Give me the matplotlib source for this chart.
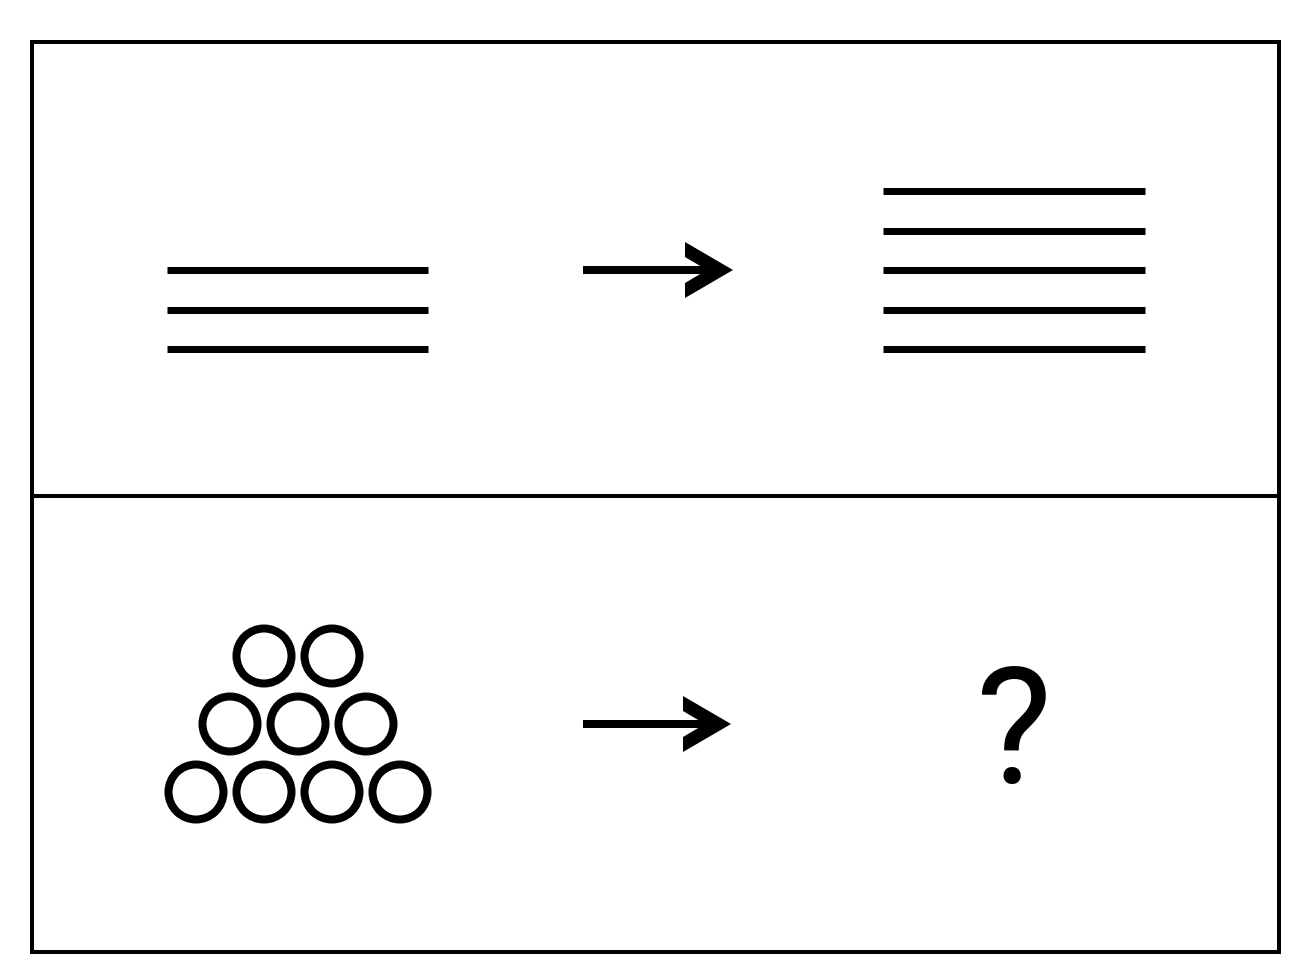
import matplotlib
matplotlib.use("Agg")
import matplotlib.pyplot as plt
from matplotlib import font_manager
from matplotlib.patches import Circle, Polygon

# --- dados do quebra-cabeça ---
top_left_lines = 3          # linhas antes da seta
top_right_lines = 5         # linhas depois da seta
circle_rows = [2, 3, 4]     # círculos por linha (de cima para baixo)
answer_text = "?"

# --- figura em coordenadas de pixel ---
fig = plt.figure(figsize=(13.04, 9.76), dpi=100)
ax = fig.add_axes([0, 0, 1, 1])
ax.set_xlim(0, 1304)
ax.set_ylim(976, 0)
ax.axis("off")

px = 72 / 100  # pontos por pixel

# moldura e divisória
ax.plot([32, 1279, 1279, 32, 32], [42, 42, 952, 952, 42], color="black",
        lw=4 * px, solid_joinstyle="miter")
ax.plot([32, 1279], [496, 496], color="black", lw=4 * px)

# --- linhas horizontais ---
line_gap = 39.5
def draw_lines(n, x0, x1, y_bottom):
    for i in range(n):
        y = y_bottom - i * line_gap
        ax.plot([x0, x1], [y, y], color="black", lw=7 * px, solid_capstyle="butt")

draw_lines(top_left_lines, 167, 428, 349)
draw_lines(top_right_lines, 883, 1145, 349)

# --- setas ---
def draw_arrow(x0, x1, y):
    ax.plot([x0, x1 - 22], [y, y], color="black", lw=8 * px, solid_capstyle="butt")
    head = [(x1 - 48, y - 28), (x1, y), (x1 - 48, y + 28),
            (x1 - 48, y + 13), (x1 - 26, y), (x1 - 48, y - 13)]
    ax.add_patch(Polygon(head, closed=True, color="black", lw=0))

draw_arrow(583, 733, 270)
draw_arrow(583, 731, 724)

# --- círculos em pirâmide ---
spacing = 68
row_y = [656, 724, 792]
cx = 298
for n, y in zip(circle_rows, row_y):
    start = cx - (n - 1) * spacing / 2
    for k in range(n):
        ax.add_patch(Circle((start + k * spacing, y), 27.5, fill=False,
                            edgecolor="black", lw=8 * px))

# --- ponto de interrogação ---
names = {f.name for f in font_manager.fontManager.ttflist}
qfont = next((f for f in ["Liberation Sans Narrow", "Roboto", "Liberation Sans"]
              if f in names), "DejaVu Sans")
ax.text(1014, 783, answer_text, ha="center", va="baseline", fontsize=116,
        family=qfont, color="black")

fig.savefig("out.png", dpi=100, facecolor="white")
